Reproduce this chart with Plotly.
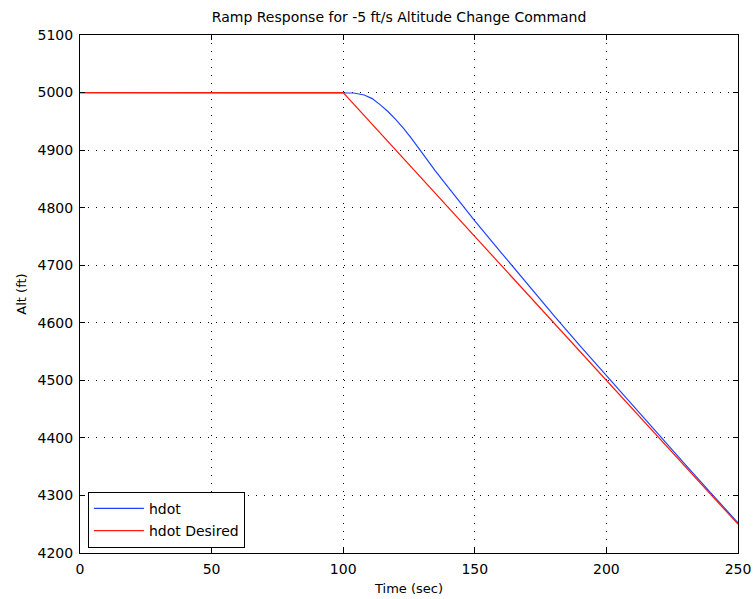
import plotly.graph_objects as go

# Altitude response (ft) of the hold loop to a -5 ft/s climb-rate ramp starting at t = 100 s
time_actual = [0, 100, 102, 104, 108, 111, 114, 117, 120, 123, 126, 129, 132, 135,
               140, 145, 150, 160, 170, 180, 190, 200, 210, 220, 230, 240, 250]
alt_actual = [5000, 5000, 4999.8, 4999.2, 4995.8, 4989.5, 4979, 4967, 4953, 4937.5,
              4920, 4901, 4882, 4864, 4835, 4805.5, 4777, 4722, 4667, 4613, 4560,
              4508, 4456, 4404.5, 4353.5, 4302.8, 4252.3]

# Commanded altitude profile
time_desired = [0, 100, 250]
alt_desired = [5000, 5000, 4250]

x_ticks = [0, 50, 100, 150, 200, 250]
y_ticks = [4200, 4300, 4400, 4500, 4600, 4700, 4800, 4900, 5000, 5100]

FONT = "DejaVu Sans"

fig = go.Figure()
fig.add_trace(go.Scatter(x=time_actual, y=alt_actual, mode="lines", name="hdot",
                         legendgroup="a", line=dict(color="#1f42ff", width=1.2)))
fig.add_trace(go.Scatter(x=time_desired, y=alt_desired, mode="lines", name="hdot Desired",
                         legendgroup="b", line=dict(color="#ff1a0a", width=1.2)))

axis_common = dict(
    showline=True, linecolor="black", linewidth=1, mirror="ticks",
    ticks="inside", ticklen=5, tickcolor="black",
    showgrid=True, gridcolor="black", gridwidth=1, griddash="1px,7px",
    zeroline=False, automargin=False, ticklabelstandoff=3,
    tickfont=dict(family=FONT, size=14, color="black"),
)

fig.update_layout(
    width=753, height=599,
    margin=dict(l=80, r=15, t=35, b=46),
    paper_bgcolor="white", plot_bgcolor="white",
    title=dict(text="Ramp Response for -5 ft/s Altitude Change Command",
               x=0.53, xanchor="center", y=0.972, yanchor="middle",
               font=dict(family=FONT, size=14, color="black")),
    xaxis=dict(range=[0, 250], tickvals=x_ticks,
               title=dict(text="Time (sec)", standoff=8,
                          font=dict(family=FONT, size=13, color="black")),
               **axis_common),
    yaxis=dict(range=[4200, 5100], tickvals=y_ticks,
               title=dict(text="Alt (ft)", standoff=8,
                          font=dict(family=FONT, size=13, color="black")),
               **axis_common),
    legend=dict(x=0.012, y=0.01, xanchor="left", yanchor="bottom",
                bgcolor="white", bordercolor="black", borderwidth=1,
                font=dict(family=FONT, size=14, color="black"),
                itemwidth=50, traceorder="grouped", tracegroupgap=1),
    showlegend=True,
)

fig.write_html("out.html")
